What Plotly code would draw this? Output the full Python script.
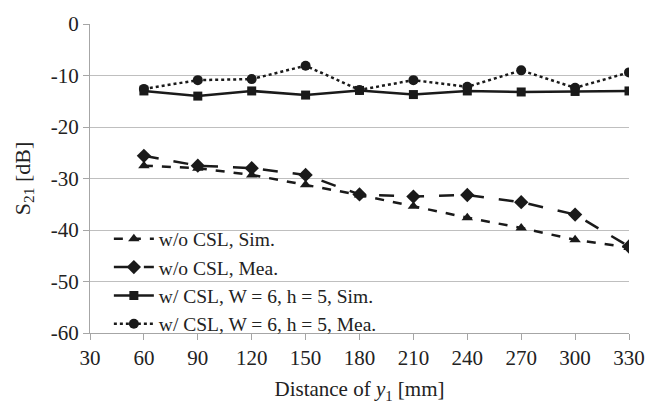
import plotly.graph_objects as go

distance = [60, 90, 120, 150, 180, 210, 240, 270, 300, 330]
wo_sim = [-27.5, -28.0, -29.3, -31.2, -33.2, -35.4, -37.6, -39.6, -41.9, -43.4]
wo_mea = [-25.6, -27.5, -28.0, -29.3, -33.1, -33.5, -33.2, -34.6, -37.0, -43.2]
w_sim = [-13.0, -14.0, -13.0, -13.8, -12.9, -13.7, -13.0, -13.2, -13.1, -13.0]
w_mea = [-12.6, -10.9, -10.7, -8.1, -12.8, -10.9, -12.2, -9.0, -12.4, -9.4]

names = ["w/o CSL, Sim.", "w/o CSL, Mea.", "w/ CSL, W = 6, h = 5, Sim.", "w/ CSL, W = 6, h = 5, Mea."]
x_ticks = [30, 60, 90, 120, 150, 180, 210, 240, 270, 300, 330]
y_ticks = [0, -10, -20, -30, -40, -50, -60]
y_ticktext = ["0", "-10", "-20", "-30", "-40", "-50", "-60"]

FONT = "Liberation Serif"
ink = "#1a1a1a"

fig = go.Figure()
styles = [
    (wo_sim, "dash", "triangle-up", 10),
    (wo_mea, "longdash", "diamond", 11),
    (w_sim, "solid", "square", 9),
    (w_mea, "dot", "circle", 10),
]
for (vals, dash, sym, sz), nm in zip(styles, names):
    fig.add_trace(go.Scatter(
        x=distance, y=vals, name=nm, mode="lines+markers",
        line=dict(color=ink, width=2.5, dash=dash),
        marker=dict(symbol=sym, size=sz, color=ink),
    ))

fig.update_layout(
    width=657, height=409,
    margin=dict(l=90, r=14, t=14, b=73),
    paper_bgcolor="white", plot_bgcolor="white",
    font=dict(family=FONT, size=21, color="#222"),
    showlegend=True,
    legend=dict(x=0.035, y=0.367, xanchor="left", yanchor="top",
                bgcolor="rgba(0,0,0,0)", font=dict(family=FONT, size=19.5),
                tracegroupgap=0, itemwidth=40),
    xaxis=dict(range=[30, 330], tickvals=x_ticks, showgrid=False,
               showline=True, linecolor="#a6a6a6", linewidth=1,
               ticks="outside", ticklen=6, tickcolor="#a6a6a6",
               ticklabeloverflow="allow",
               tickfont=dict(family=FONT, size=21),
               title=dict(text="Distance of <i>y</i><sub>1</sub> [mm]", standoff=12,
                          font=dict(family=FONT, size=21)),
               zeroline=False),
    yaxis=dict(range=[-60, 0], tickvals=y_ticks, ticktext=y_ticktext, showgrid=True,
               gridcolor="#bfbfbf", gridwidth=1,
               showline=True, linecolor="#a6a6a6", linewidth=1,
               ticks="outside", ticklen=6, tickcolor="#a6a6a6",
               tickfont=dict(family=FONT, size=21),
               title=dict(text="S<sub>21</sub> [dB]", standoff=14,
                          font=dict(family=FONT, size=22)),
               zeroline=False),
)

fig.write_html("out.html")
